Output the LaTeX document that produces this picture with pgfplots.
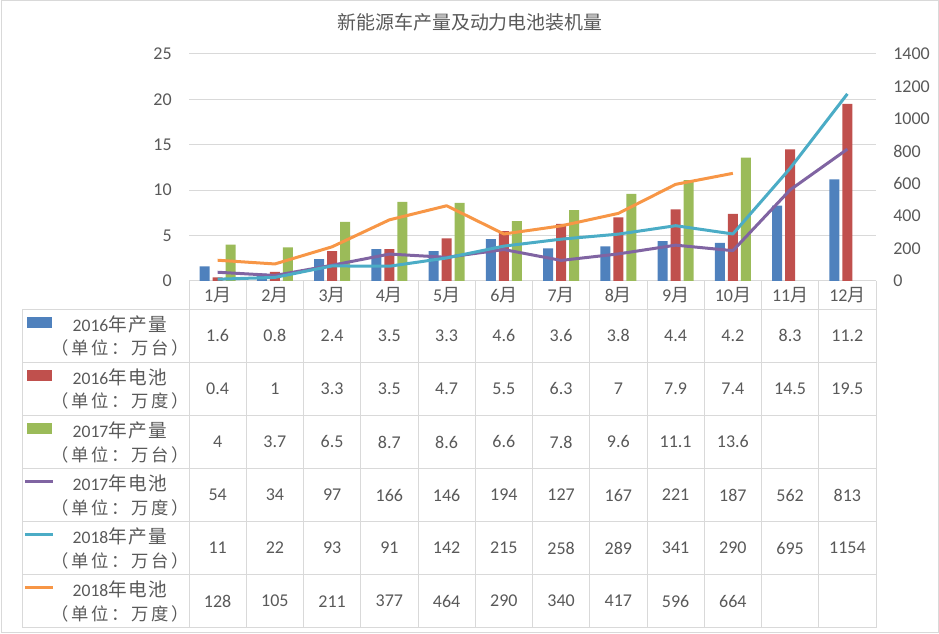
\documentclass[border=0pt]{standalone}
\usepackage{pgfplots}
\pgfplotsset{compat=1.18}
\usepackage{fontspec}
\setmainfont{Carlito}
\newfontfamily\cjk{Noto Sans CJK SC}
\newfontfamily\cjkv{Noto Sans CJK SC}[LetterSpace=8]
\newfontfamily\cjkw{Noto Sans CJK SC}[LetterSpace=16]
\definecolor{cblue}{HTML}{4F81BD}
\definecolor{cred}{HTML}{C0504D}
\definecolor{cgreen}{HTML}{9BBB59}
\definecolor{cpurple}{HTML}{8064A2}
\definecolor{ccyan}{HTML}{4BACC6}
\definecolor{corange}{HTML}{F79646}
\definecolor{cgray}{HTML}{595959}
\definecolor{cgrid}{HTML}{D9D9D9}
\newcommand\hd[2]{{\fontsize{13.2}{16}\selectfont #1}{\cjkv\fontsize{14}{18}\selectfont #2\hspace{-0.08em}}}
\newcommand\un[1]{{\cjkw\fontsize{13}{16}\selectfont （单位：#1）\hspace{-0.16em}}}
\begin{document}
\begin{tikzpicture}[font=\fontsize{13.5}{16}\selectfont, text=cgray]
\useasboundingbox (0,0) rectangle (704.25pt,475.5pt);
% left axis: bars
\begin{axis}[scale only axis, width=515.25pt, height=170.25pt,
  at={(141.75pt,264.75pt)}, anchor=south west,
  xmin=0.5, xmax=12.5, ymin=0, ymax=25, ytick={0,5,10,15,20,25}, xtick=\empty,
  axis line style={draw=none}, tick style={draw=none}, major tick length=0pt,
  ymajorgrids, grid style={cgrid, line width=0.75pt},
  ybar=2.25pt, bar width=7.5pt,
  /pgf/number format/assume math mode=true,
  yticklabel style={font=\fontsize{13.5}{16}\selectfont, text=cgray, anchor=east, inner sep=0pt, xshift=-12.75pt}]
\addplot[fill=cblue, draw=none] coordinates {(1,1.6)(2,0.8)(3,2.4)(4,3.5)(5,3.3)(6,4.6)(7,3.6)(8,3.8)(9,4.4)(10,4.2)(11,8.3)(12,11.2)};
\addplot[fill=cred, draw=none] coordinates {(1,0.4)(2,1)(3,3.3)(4,3.5)(5,4.7)(6,5.5)(7,6.3)(8,7)(9,7.9)(10,7.4)(11,14.5)(12,19.5)};
\addplot[fill=cgreen, draw=none] coordinates {(1,4)(2,3.7)(3,6.5)(4,8.7)(5,8.6)(6,6.6)(7,7.8)(8,9.6)(9,11.1)(10,13.6)};
\end{axis}
% right axis: lines
\begin{axis}[scale only axis, width=515.25pt, height=170.25pt,
  at={(141.75pt,264.75pt)}, anchor=south west,
  xmin=0.5, xmax=12.5, ymin=0, ymax=1400, ytick={0,200,...,1400}, xtick=\empty,
  axis line style={draw=none}, tick style={draw=none}, major tick length=0pt,
  yticklabel pos=right,
  /pgf/number format/assume math mode=true,
  /pgf/number format/1000 sep={},
  yticklabel style={font=\fontsize{13.5}{16}\selectfont, text=cgray, anchor=west, inner sep=0pt, xshift=12.75pt}]
\addplot[cpurple, line width=2.25pt, line join=round] coordinates {(1,54)(2,34)(3,97)(4,166)(5,146)(6,194)(7,127)(8,167)(9,221)(10,187)(11,562)(12,813)};
\addplot[ccyan, line width=2.25pt, line join=round] coordinates {(1,11)(2,22)(3,93)(4,91)(5,142)(6,215)(7,258)(8,289)(9,341)(10,290)(11,695)(12,1154)};
\addplot[corange, line width=2.25pt, line join=round] coordinates {(1,128)(2,105)(3,211)(4,377)(5,464)(6,290)(7,340)(8,417)(9,596)(10,664)};
\end{axis}
% table, frame, title in pixel coordinates (y down)
\begin{scope}[x=0.75pt, y=-0.75pt, shift={(0,475.5pt)}]
\draw[cgrid, line width=0.75pt] (1,1) rectangle (938,633);
\node[font=\cjk\fontsize{14.2}{16}\selectfont] at (470,22) {新能源车产量及动力电池装机量};
% grid of table
\foreach \r in {0,...,6} {\draw[cgrid, line width=0.75pt] (22,{309.3+\r*53.07}) -- (876,{309.3+\r*53.07});}
\draw[cgrid, line width=0.75pt] (22,309.3) -- (22,627.7);
\foreach \k in {0,...,12} {\draw[cgrid, line width=0.75pt] ({189+\k*57.25},281) -- ({189+\k*57.25},627.7);}
% month labels
\foreach \k in {1,...,12} {\node at ({189+(\k-0.5)*57.25},295) {\k{\cjk 月}};}
% legend keys
\fill[cblue] (27,{309.3+8}) rectangle (52,{309.3+19});
\fill[cred] (27,{309.3+53.07+8}) rectangle (52,{309.3+53.07+19});
\fill[cgreen] (27,{309.3+2*53.07+8}) rectangle (52,{309.3+2*53.07+19});
\draw[cpurple, line width=2.25pt] (25,{309.3+3*53.07+13}) -- (53,{309.3+3*53.07+13});
\draw[ccyan, line width=2.25pt] (25,{309.3+4*53.07+13}) -- (53,{309.3+4*53.07+13});
\draw[corange, line width=2.25pt] (25,{309.3+5*53.07+13}) -- (53,{309.3+5*53.07+13});
% header text
\foreach \r/\a/\b/\c in {0/2016/年产量/万台,1/2016/年电池/万度,2/2017/年产量/万台,3/2017/年电池/万度,4/2018/年产量/万台,5/2018/年电池/万度} {
  \node at (120,{309.3+\r*53.07+15}) {\hd{\a}{\b}};
  \node at (120,{309.3+\r*53.07+39}) {\un{\c}};
}
% values
\foreach \v [count=\k] in {1.6,0.8,2.4,3.5,3.3,4.6,3.6,3.8,4.4,4.2,8.3,11.2} {\node at ({189+(\k-0.5)*57.25},{309.3+0.5*53.07}) {\v};}
\foreach \v [count=\k] in {0.4,1,3.3,3.5,4.7,5.5,6.3,7,7.9,7.4,14.5,19.5} {\node at ({189+(\k-0.5)*57.25},{309.3+1.5*53.07}) {\v};}
\foreach \v [count=\k] in {4,3.7,6.5,8.7,8.6,6.6,7.8,9.6,11.1,13.6} {\node at ({189+(\k-0.5)*57.25},{309.3+2.5*53.07}) {\v};}
\foreach \v [count=\k] in {54,34,97,166,146,194,127,167,221,187,562,813} {\node at ({189+(\k-0.5)*57.25},{309.3+3.5*53.07}) {\v};}
\foreach \v [count=\k] in {11,22,93,91,142,215,258,289,341,290,695,1154} {\node at ({189+(\k-0.5)*57.25},{309.3+4.5*53.07}) {\v};}
\foreach \v [count=\k] in {128,105,211,377,464,290,340,417,596,664} {\node at ({189+(\k-0.5)*57.25},{309.3+5.5*53.07}) {\v};}
\end{scope}
\end{tikzpicture}
\end{document}
